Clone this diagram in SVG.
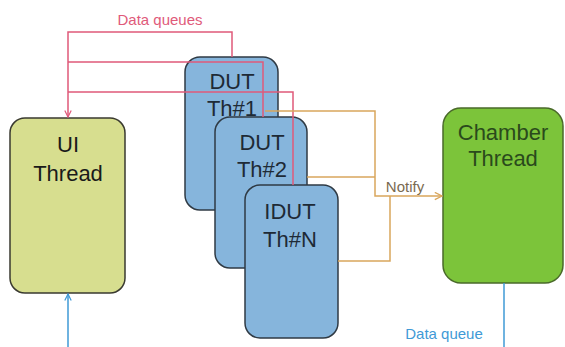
<svg xmlns="http://www.w3.org/2000/svg" width="565" height="347" viewBox="0 0 565 347">
<style>
.lbl{font-family:"Liberation Sans",Arial,sans-serif;text-anchor:middle}
.node{font-size:22px}
.dut rect{fill:#86b5dc;stroke:#2f3a44;stroke-width:1.5}
.dut text{fill:#1e2a36}
.pink{fill:none;stroke:#e05a7a;stroke-width:1.5}
.orange{fill:none;stroke:#d9a65c;stroke-width:1.5}
.blue{fill:none;stroke:#3f9ad6;stroke-width:1.5}
</style>
<defs>
<marker id="ap" viewBox="0 0 10 10" refX="9" refY="5" markerWidth="8" markerHeight="8" orient="auto" markerUnits="userSpaceOnUse"><path d="M1,1 L9,5 L1,9" fill="none" stroke="#e05a7a" stroke-width="1.5"/></marker>
<marker id="ao" viewBox="0 0 10 10" refX="9" refY="5" markerWidth="9" markerHeight="9" orient="auto" markerUnits="userSpaceOnUse"><path d="M1,1 L9,5 L1,9" fill="none" stroke="#d9a65c" stroke-width="1.5"/></marker>
<marker id="ab" viewBox="0 0 10 10" refX="9" refY="5" markerWidth="8" markerHeight="8" orient="auto" markerUnits="userSpaceOnUse"><path d="M1,1 L9,5 L1,9" fill="none" stroke="#3f9ad6" stroke-width="1.5"/></marker>
</defs>
<rect width="565" height="347" fill="#ffffff"/>
<g id="ui-thread">
<rect x="10" y="118" width="115" height="175" rx="15" fill="#d7de8f" stroke="#3a3a30" stroke-width="1.5"/>
<text class="lbl node" x="68" y="152" fill="#1a1a1a">UI</text>
<text class="lbl node" x="68" y="181" fill="#1a1a1a">Thread</text>
</g>
<g id="dut1" class="dut">
<rect x="185" y="57" width="93" height="153" rx="15"/>
<text class="lbl node" x="232" y="89">DUT</text>
<text class="lbl node" x="232" y="116">Th#1</text>
</g>
<g id="dut2" class="dut">
<rect x="215" y="117" width="92" height="151" rx="15"/>
<text class="lbl node" x="262" y="150">DUT</text>
<text class="lbl node" x="262" y="177">Th#2</text>
</g>
<g id="dutn" class="dut">
<rect x="245" y="185" width="93" height="153" rx="15"/>
<text class="lbl node" x="290" y="219">IDUT</text>
<text class="lbl node" x="290" y="247">Th#N</text>
</g>
<g id="chamber-thread">
<rect x="443" y="108" width="120" height="175" rx="18" fill="#7cc43a" stroke="#4a6a2a" stroke-width="1.5"/>
<text class="lbl node" x="503" y="140" fill="#2a4a1c">Chamber</text>
<text class="lbl node" x="503" y="166" fill="#2a4a1c">Thread</text>
</g>
<g id="connectors">
<path class="pink" d="M232,57 V32 H68 V117" marker-end="url(#ap)"/>
<path class="pink" d="M263,117 V62 H68"/>
<path class="pink" d="M293,185 V92 H68"/>
<text class="lbl" x="160" y="25" font-size="15" fill="#e05a7a">Data queues</text>
<path class="orange" d="M265,111 H375 V196 H442" marker-end="url(#ao)"/>
<path class="orange" d="M307,177 H375"/>
<path class="orange" d="M338,261 H390 V196"/>
<text class="lbl" x="405" y="192" font-size="15" fill="#7a6a50">Notify</text>
<path class="blue" d="M68,347 V294" marker-end="url(#ab)"/>
<path class="blue" d="M504,283 V347"/>
<text class="lbl" x="444" y="339" font-size="15" fill="#3f9ad6">Data queue</text>
</g>
</svg>
